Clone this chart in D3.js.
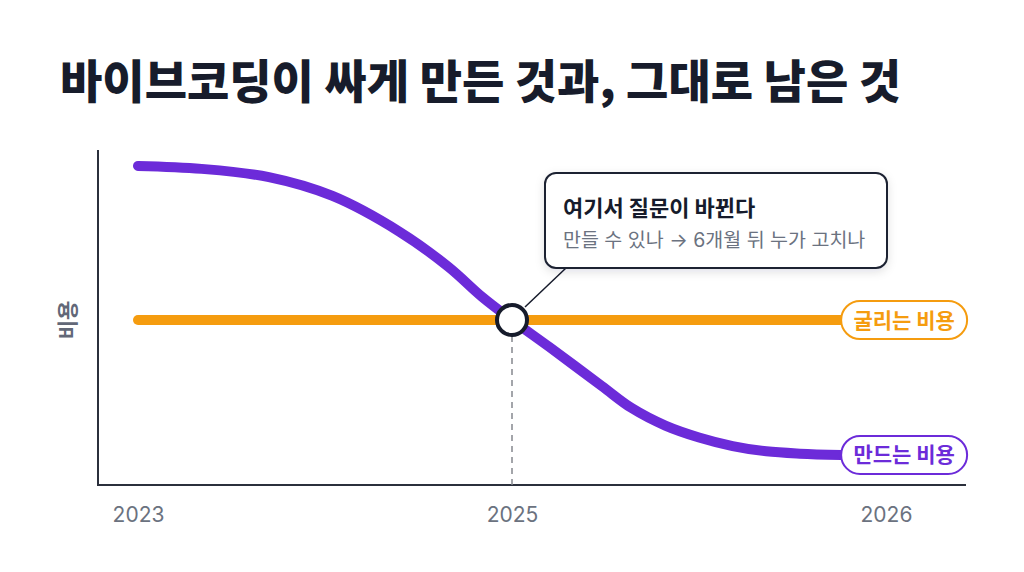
<!DOCTYPE html>
<html><head><meta charset="utf-8">
<script src="https://cdn.jsdelivr.net/npm/d3@7"></script>
<style>
html,body{margin:0;padding:0;background:#fff;}
svg{display:block;font-family:Inter,"Noto Sans CJK KR","Noto Sans",sans-serif;}
</style></head>
<body>
<svg id="c" width="1024" height="572"></svg>
<script>
// ---- data ----
const titleText = "바이브코딩이 싸게 만든 것과, 그대로 남은 것";
const yLabel = "비용";
const yearLabels = ["2023", "2025", "2026"];
const yearPos = [0, 1, 2];
const buildT    = [0, 0.17, 0.35, 0.52, 0.70, 0.83, 0.92, 1.00, 1.10, 1.24, 1.32, 1.41, 1.50, 1.59, 1.68, 1.77, 1.88];
const buildCost = [96.7, 95.8, 93.3, 87.6, 76.7, 66.1, 57.0, 50.0, 41.8, 30.0, 23.3, 18.0, 14.4, 11.8, 10.2, 9.5, 9.1];
const runT = [0, 1.88];
const runCost = [50, 50];
const seriesNames = ["굴리는 비용", "만드는 비용"];
const crossT = 1, crossCost = 50;
const noteTitle = "여기서 질문이 바뀐다";
const noteSub = "만들 수 있나 → 6개월 뒤 누가 고치나";

// ---- drawing ----
const svg = d3.select("#c");
const purple = "#6c2bd9", orange = "#f59c0f", dark = "#161b2b", gray = "#6b7280";

const x = d3.scaleLinear().domain([0, 2]).range([138, 886]);
const y = d3.scaleLinear().domain([0, 100]).range([485, 155]);

const defs = svg.append("defs");
const f = defs.append("filter").attr("id", "sh").attr("x", "-20%").attr("y", "-30%").attr("width", "140%").attr("height", "170%");
f.append("feDropShadow").attr("dx", 0).attr("dy", 3).attr("stdDeviation", 5).attr("flood-color", "#1e2436").attr("flood-opacity", 0.12);

// title
svg.append("text").attr("x", 60).attr("y", 98)
  .attr("font-size", 46).attr("font-weight", 900).attr("fill", "#171c2b")
  .attr("font-family", "'Noto Sans CJK KR',sans-serif")
  .text(titleText);

// axes lines
svg.append("line").attr("x1", 98).attr("x2", 98).attr("y1", 150).attr("y2", y(0))
  .attr("stroke", "#2b303c").attr("stroke-width", 2);
svg.append("line").attr("x1", 97).attr("x2", 966).attr("y1", y(0)).attr("y2", y(0))
  .attr("stroke", "#2b303c").attr("stroke-width", 2);

// x axis ticks
const xAxis = d3.axisBottom(x).tickValues(yearPos).tickSize(0).tickPadding(0)
  .tickFormat((d, i) => yearLabels[i]);
const gx = svg.append("g").attr("transform", `translate(0,${y(0)})`).call(xAxis);
gx.select(".domain").remove();
gx.selectAll("text").attr("y", 37).attr("dy", 0).attr("font-size", 21)
  .attr("fill", gray).attr("font-family", "Inter,sans-serif");

// y label
svg.append("text").attr("transform", `translate(75,${y(50)}) rotate(-90)`)
  .attr("text-anchor", "middle").attr("font-size", 21).attr("font-weight", 700)
  .attr("fill", "#626878").attr("font-family", "'Noto Sans CJK KR',sans-serif")
  .text(yLabel);

// dashed guide
svg.append("line").attr("x1", x(crossT)).attr("x2", x(crossT))
  .attr("y1", y(crossCost) + 16).attr("y2", y(0))
  .attr("stroke", "#85888f").attr("stroke-width", 1.5).attr("stroke-dasharray", "6,5");

const line = d3.line().x(d => x(d[0])).y(d => y(d[1])).curve(d3.curveCatmullRom.alpha(0.5));

// orange run cost
svg.append("path").datum(runT.map((t, i) => [t, runCost[i]]))
  .attr("d", line).attr("fill", "none").attr("stroke", orange)
  .attr("stroke-width", 10).attr("stroke-linecap", "round");

// purple build cost
svg.append("path").datum(buildT.map((t, i) => [t, buildCost[i]]))
  .attr("d", line).attr("fill", "none").attr("stroke", purple)
  .attr("stroke-width", 10).attr("stroke-linecap", "round");

// connector
svg.append("line").attr("x1", x(crossT) + 13).attr("y1", y(crossCost) - 13)
  .attr("x2", 566).attr("y2", 268).attr("stroke", dark).attr("stroke-width", 1.5);

// crossing marker
svg.append("circle").attr("cx", x(crossT)).attr("cy", y(crossCost)).attr("r", 15)
  .attr("fill", "#fff").attr("stroke", dark).attr("stroke-width", 4);

// annotation box
const note = svg.append("g");
note.append("rect").attr("x", 545).attr("y", 173).attr("width", 342).attr("height", 95)
  .attr("rx", 11).attr("fill", "#fff").attr("stroke", "#1f2433").attr("stroke-width", 2)
  .attr("filter", "url(#sh)");
note.append("text").attr("x", 563).attr("y", 216).attr("font-size", 22).attr("font-weight", 700)
  .attr("fill", "#161b2b").attr("font-family", "'Noto Sans CJK KR',sans-serif").text(noteTitle);
note.append("text").attr("x", 563).attr("y", 247).attr("font-size", 19.5).attr("font-weight", 400)
  .attr("fill", "#6b7280").attr("font-family", "Inter,'Noto Sans CJK KR',sans-serif").text(noteSub);

// end labels
const ends = [
  {name: seriesNames[0], v: runCost[runCost.length - 1], t: runT[runT.length - 1], c: orange},
  {name: seriesNames[1], v: buildCost[buildCost.length - 1], t: buildT[buildT.length - 1], c: purple}
];
ends.forEach(e => {
  const g = svg.append("g").attr("transform", `translate(${x(e.t)},${y(e.v)})`);
  g.append("rect").attr("x", 0).attr("y", -19).attr("width", 126).attr("height", 38).attr("rx", 19)
    .attr("fill", "#fff").attr("stroke", e.c).attr("stroke-width", 2);
  g.append("text").attr("x", 63).attr("y", 7.5).attr("text-anchor", "middle")
    .attr("font-size", 21).attr("font-weight", 700).attr("fill", e.c)
    .attr("font-family", "'Noto Sans CJK KR',sans-serif").text(e.name);
});
</script>
</body></html>
